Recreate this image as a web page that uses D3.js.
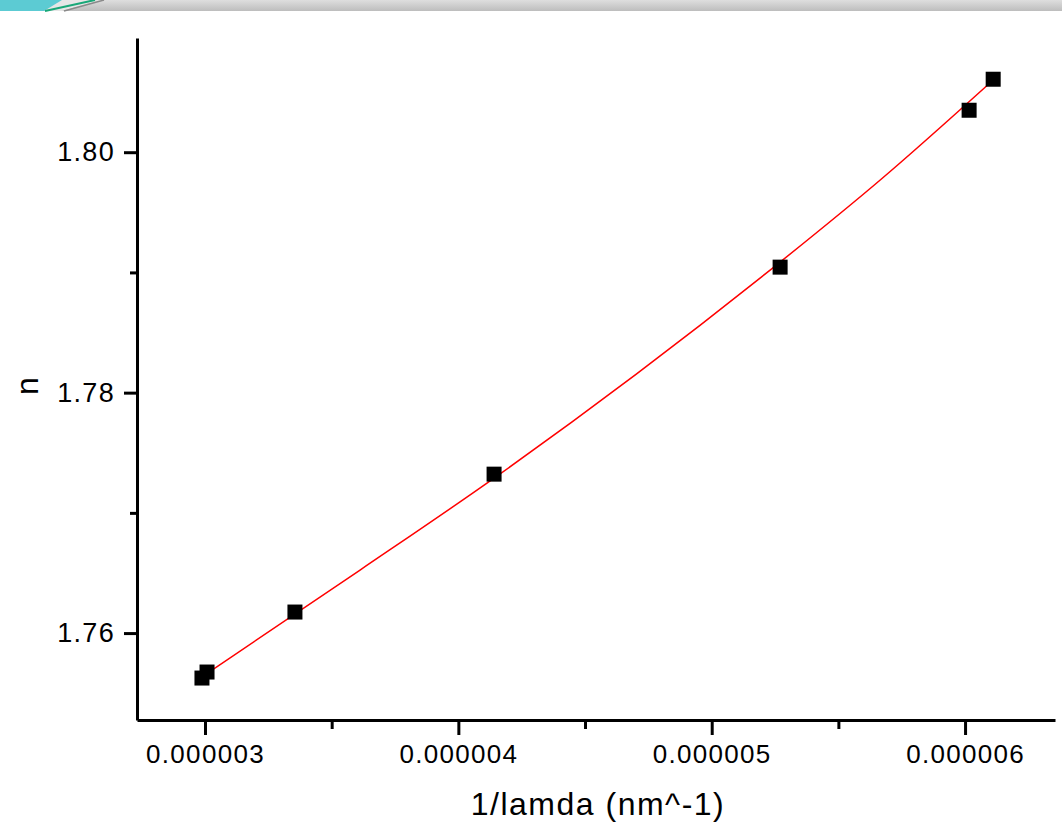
<!DOCTYPE html>
<html>
<head>
<meta charset="utf-8">
<script src="https://cdn.jsdelivr.net/npm/d3@7"></script>
<style>
  body { margin: 0; background: #fff; }
  svg { display: block; }
</style>
</head>
<body>
<span></span>
<script>
let width = 1062;
let height = 829;

// measured points: 1/lamda (nm^-1) vs n
let invLambda = [2.988e-6, 3.008e-6, 3.355e-6, 4.141e-6, 5.27e-6, 6.016e-6, 6.111e-6];
let nValues = [1.75626, 1.75676, 1.76175, 1.77322, 1.79044, 1.80349, 1.80607];

// fit curve
let fitX = [2.992e-6, 3.612e-6, 4.141e-6, 5.27e-6, 5.664e-6, 6.110e-6];
let fitY = [1.75642, 1.76524, 1.77289, 1.79086, 1.79767, 1.80599];

let xTicks = [3e-6, 4e-6, 5e-6, 6e-6];
let xMinor = [3.5e-6, 4.5e-6, 5.5e-6];
let yTicks = [1.76, 1.78, 1.80];
let yMinor = [1.77, 1.79];

let svg = d3.select("span")
    .append("svg")
    .attr("width", width)
    .attr("height", height);

// slide header strip
let defs = svg.append("defs");
let grad = defs.append("linearGradient").attr("id", "band").attr("x1", 0).attr("y1", 0).attr("x2", 0).attr("y2", 1);
grad.append("stop").attr("offset", "0%").attr("stop-color", "#dedede");
grad.append("stop").attr("offset", "100%").attr("stop-color", "#bdbdbd");

svg.append("rect").attr("x", 0).attr("y", 0).attr("width", width).attr("height", 11).attr("fill", "url(#band)");
svg.append("polygon").attr("points", "0,0 100,0 62,11 0,11").attr("fill", "#e6e6e6");
svg.append("polygon").attr("points", "0,0 62,0 44,11 0,11").attr("fill", "#5ccbd3");
svg.append("line").attr("x1", 45).attr("y1", 11).attr("x2", 95).attr("y2", 0)
    .attr("stroke", "#19a878").attr("stroke-width", 2);
svg.append("line").attr("x1", 64).attr("y1", 11).attr("x2", 104).attr("y2", 0)
    .attr("stroke", "#8a8a8a").attr("stroke-width", 1.5);

let x = d3.scaleLinear().domain([2.7316e-6, 6.355e-6]).range([137, 1055]);
let y = d3.scaleLinear().domain([1.75277, 1.8095]).range([720, 38]);

let font = "'Liberation Sans', Arial, sans-serif";

// x axis
let xAxis = svg.append("g")
    .attr("transform", "translate(0,720)")
    .call(d3.axisBottom(x).tickValues(xTicks).tickSize(15).tickSizeOuter(0).tickPadding(10)
        .tickFormat(d => d3.format(".6f")(d)));
xAxis.select(".domain").attr("stroke-width", 3);
xAxis.selectAll(".tick line").attr("stroke-width", 3);
xAxis.selectAll("text").attr("font-family", font).attr("font-size", 26).attr("fill", "#000")
    .attr("letter-spacing", 1.3);
svg.append("g")
    .attr("transform", "translate(0,720)")
    .call(d3.axisBottom(x).tickValues(xMinor).tickSize(9).tickFormat(""))
    .call(g => g.select(".domain").remove())
    .selectAll(".tick line").attr("stroke-width", 3);

// y axis
let yAxis = svg.append("g")
    .attr("transform", "translate(137,0)")
    .call(d3.axisLeft(y).tickValues(yTicks).tickSize(13).tickSizeOuter(0).tickPadding(9)
        .tickFormat(d3.format(".2f")));
yAxis.select(".domain").attr("stroke-width", 3);
yAxis.selectAll(".tick line").attr("stroke-width", 3);
yAxis.selectAll("text").attr("font-family", font).attr("font-size", 27).attr("fill", "#000")
    .attr("letter-spacing", 1.3);
svg.append("g")
    .attr("transform", "translate(137,0)")
    .call(d3.axisLeft(y).tickValues(yMinor).tickSize(7).tickFormat(""))
    .call(g => g.select(".domain").remove())
    .selectAll(".tick line").attr("stroke-width", 3);

// axis titles
svg.append("text")
    .attr("x", 598).attr("y", 815)
    .attr("text-anchor", "middle")
    .attr("font-family", font).attr("font-size", 32)
    .attr("letter-spacing", 1.5)
    .text("1/lamda (nm^-1)");

svg.append("text")
    .attr("transform", "translate(38,386) rotate(-90)")
    .attr("text-anchor", "middle")
    .attr("font-family", font).attr("font-size", 32)
    .text("n");

// fit curve
let fitData = fitX.map((d, i) => ({ x: d, y: fitY[i] }));
let line = d3.line()
    .x(d => x(d.x))
    .y(d => y(d.y))
    .curve(d3.curveMonotoneX);
svg.append("path")
    .attr("d", line(fitData))
    .attr("stroke", "#ff0000")
    .attr("stroke-width", 1.5)
    .attr("fill", "none");

// data markers
let size = 15;
svg.append("g").selectAll("rect")
    .data(invLambda.map((d, i) => ({ x: d, y: nValues[i] })))
    .join("rect")
    .attr("x", d => x(d.x) - size / 2)
    .attr("y", d => y(d.y) - size / 2)
    .attr("width", size)
    .attr("height", size)
    .attr("fill", "#000");
</script>
</body>
</html>
